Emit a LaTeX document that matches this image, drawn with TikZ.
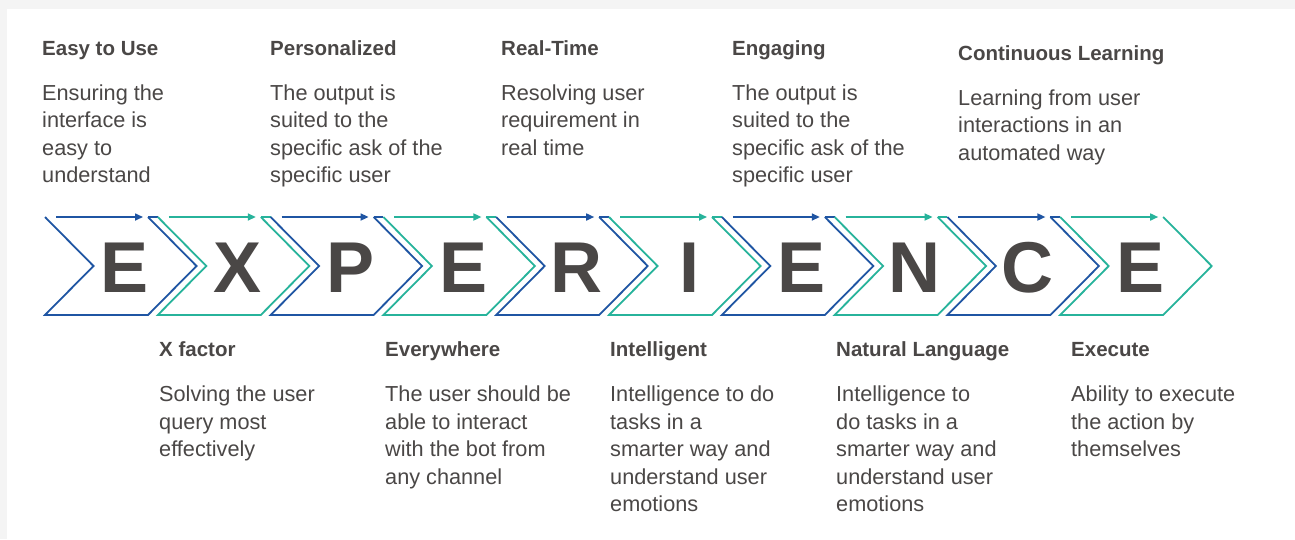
\documentclass[tikz,border=0pt]{standalone}
\usepackage{fontspec}
\setmainfont{Liberation Sans}
\usetikzlibrary{arrows.meta}
\definecolor{cblue}{HTML}{1F55A3}
\definecolor{cteal}{HTML}{27B39B}
\definecolor{ctext}{HTML}{4A4746}
\definecolor{cbg}{HTML}{F4F4F4}
\begin{document}
\begin{tikzpicture}[x=1pt,y=-1pt,
  chev/.style={line width=1.8pt, line join=miter},
  flow/.style={line width=1.6pt, -{Triangle[length=8pt,width=7pt]}},
  bigletter/.style={font=\fontsize{72}{72}\selectfont\bfseries, text=ctext, inner sep=0pt, anchor=base},
  ttl/.style={font=\fontsize{20.5}{27.5}\selectfont\bfseries, text=ctext, inner sep=0pt, anchor=base west},
  body/.style={font=\fontsize{21.7}{27.5}\selectfont, text=ctext, inner sep=0pt, anchor=base west, align=left}]
\useasboundingbox (0,0) rectangle (1295,539);
\fill[cbg] (0,0) rectangle (1295,539);
\fill[white] (7,9) rectangle (1295,539);
% chevrons
\foreach \i/\c/\t in {0/cblue/E,1/cteal/X,2/cblue/P,3/cteal/E,4/cblue/R,5/cteal/I,6/cblue/E,7/cteal/N,8/cblue/C,9/cteal/E}{
  \pgfmathsetmacro{\L}{45+112.8*\i}
  \pgfmathsetmacro{\R}{\L+103}
  \pgfmathsetmacro{\Ln}{\L+112.8}
  \coordinate (tl\i) at (\L,217);
  \coordinate (nt\i) at (\L+48.5,266);
  \coordinate (bl\i) at (\L,315);
  \coordinate (br\i) at (\R,315);
  \coordinate (tp\i) at (\R+48.5,266);
  \coordinate (tr\i) at (\R,217);
  \coordinate (as\i) at (\L+11,217);
  \coordinate (ae\i) at (\R-5,217);
  \draw[chev,\c] (tl\i) -- (nt\i) -- (bl\i) -- (br\i) -- (tp\i) -- (tr\i);
  \ifnum\i<9 \draw[chev,\c] (tr\i) -- (\Ln,217); \fi
  \draw[flow,\c] (as\i) -- (ae\i);
  \node[bigletter] (let\i) at (\L+80,292) {\t};
}
% top texts (anchor = baseline of last line)
\node[ttl] (t1) at (42,55) {Easy to Use};
\node[body] (b1) at (42,182.5) {Ensuring the\\interface is\\easy to\\understand};
\node[ttl] (t2) at (270,55) {Personalized};
\node[body] (b2) at (270,182.5) {The output is\\suited to the\\specific ask of the\\specific user};
\node[ttl] (t3) at (501,55) {Real-Time};
\node[body] (b3) at (501,155) {Resolving user\\requirement in\\real time};
\node[ttl] (t4) at (732,55) {Engaging};
\node[body] (b4) at (732,182.5) {The output is\\suited to the\\specific ask of the\\specific user};
\node[ttl] (t5) at (958,60) {Continuous Learning};
\node[body] (b5) at (958,160) {Learning from user\\interactions in an\\automated way};
% bottom texts
\node[ttl] (u1) at (159,356) {X factor};
\node[body] (c1) at (159,456.7) {Solving the user\\query most\\effectively};
\node[ttl] (u2) at (385,356) {Everywhere};
\node[body] (c2) at (385,484.2) {The user should be\\able to interact\\with the bot from\\any channel};
\node[ttl] (u3) at (610,356) {Intelligent};
\node[body] (c3) at (610,511.7) {Intelligence to do\\tasks in a\\smarter way and\\understand user\\emotions};
\node[ttl] (u4) at (836,356) {Natural Language};
\node[body] (c4) at (836,511.7) {Intelligence to\\do tasks in a\\smarter way and\\understand user\\emotions};
\node[ttl] (u5) at (1071,356) {Execute};
\node[body] (c5) at (1071,456.7) {Ability to execute\\the action by\\themselves};
\end{tikzpicture}
\end{document}
